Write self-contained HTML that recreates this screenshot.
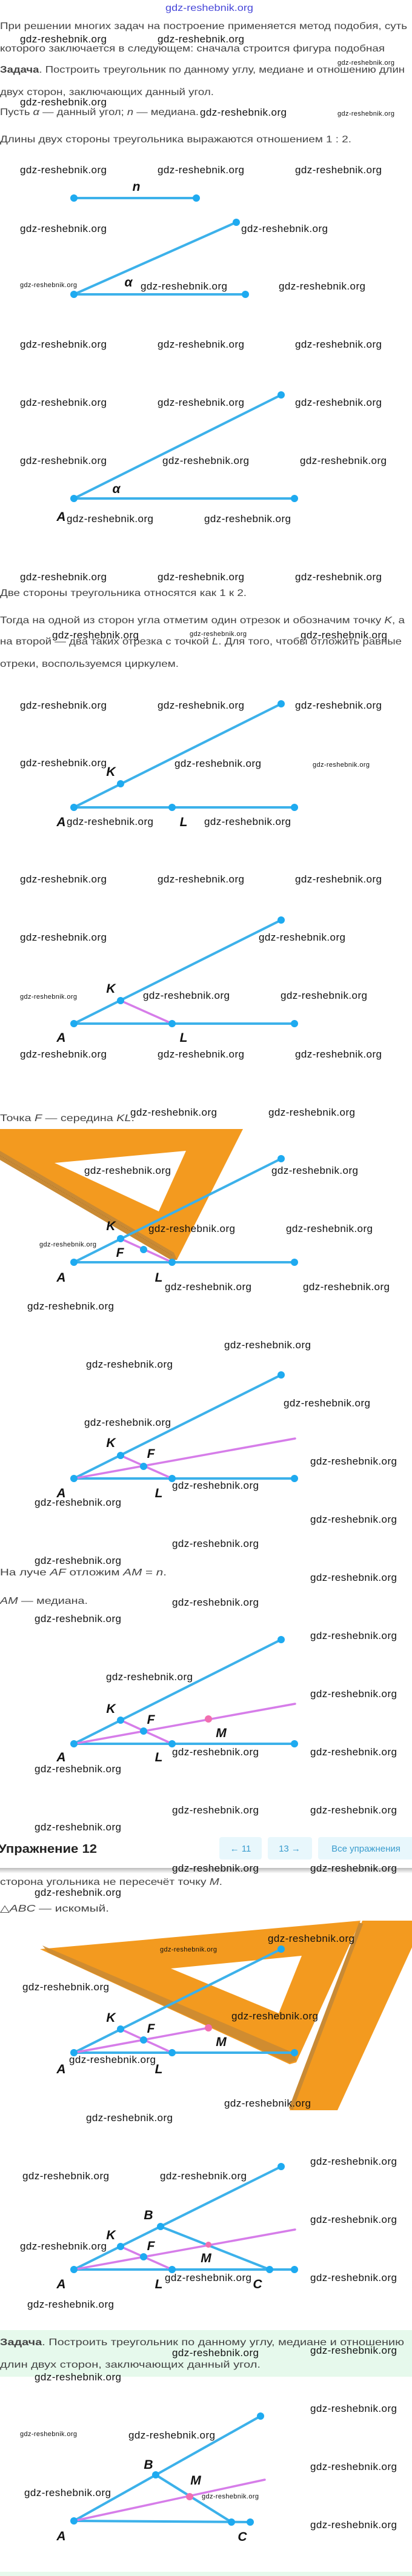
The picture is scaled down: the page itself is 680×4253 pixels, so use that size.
<!DOCTYPE html>
<html><head><meta charset="utf-8"><style>
html,body{margin:0;padding:0;background:#fff;}
svg{display:block;}
.w{font-family:"Liberation Sans",sans-serif;font-size:17px;fill:#111;}
.ws{font-family:"Liberation Sans",sans-serif;font-size:11px;fill:#111;}
.t{font-family:"Liberation Sans",sans-serif;font-size:16px;fill:#444;}
.lb{font-family:"Liberation Sans",sans-serif;font-size:21px;font-style:italic;font-weight:bold;fill:#111;text-anchor:middle;}
.b{stroke:#3cb1ea;stroke-width:4;stroke-linecap:round;fill:none;}
.p{stroke:#d67de9;stroke-width:3.5;stroke-linecap:round;fill:none;}
.d{fill:#1eaaf0;}
.pm{fill:#f16fb0;}
.btn{fill:#e8f7fc;}
.bt{font-family:"Liberation Sans",sans-serif;font-size:15px;fill:#3a9cce;text-anchor:middle;}
</style></head><body>
<svg width="680" height="4253" viewBox="0 0 680 4253" xmlns="http://www.w3.org/2000/svg">
<defs>
<linearGradient id="sh" x1="0" y1="0" x2="0" y2="1"><stop offset="0" stop-color="#bbb"/><stop offset="1" stop-color="#fff"/></linearGradient>
</defs>
<rect width="680" height="4253" fill="#fff"/>
<text x="273" y="18" style="font-family:'Liberation Sans',sans-serif;font-size:16px;fill:#4646d8" textLength="145" lengthAdjust="spacingAndGlyphs">gdz-reshebnik.org</text>

<!-- body text -->
<text class="t" x="0" y="48" textLength="672" lengthAdjust="spacingAndGlyphs">При решении многих задач на построение применяется метод подобия, суть</text>
<text class="t" x="0" y="85" textLength="635" lengthAdjust="spacingAndGlyphs">которого заключается в следующем: сначала строится фигура подобная</text>
<text class="t" x="0" y="120" textLength="668" lengthAdjust="spacingAndGlyphs"><tspan font-weight="bold">Задача</tspan>. Построить треугольник по данному углу, медиане и отношению длин</text>
<text class="t" x="0" y="157" textLength="353" lengthAdjust="spacingAndGlyphs">двух сторон, заключающих данный угол.</text>
<text class="t" x="0" y="190" textLength="328" lengthAdjust="spacingAndGlyphs">Пусть <tspan font-style="italic">α</tspan> — данный угол; <tspan font-style="italic">n</tspan> — медиана.</text>
<text class="t" x="0" y="235" textLength="580" lengthAdjust="spacingAndGlyphs">Длины двух стороны треугольника выражаются отношением 1 : 2.</text>
<text class="t" x="0" y="984" textLength="407" lengthAdjust="spacingAndGlyphs">Две стороны треугольника относятся как 1 к 2.</text>
<text class="t" x="0" y="1029" textLength="668" lengthAdjust="spacingAndGlyphs">Тогда на одной из сторон угла отметим один отрезок и обозначим точку <tspan font-style="italic">K</tspan>, а</text>
<text class="t" x="0" y="1064" textLength="663" lengthAdjust="spacingAndGlyphs">на второй — два таких отрезка с точкой <tspan font-style="italic">L</tspan>. Для того, чтобы отложить равные</text>
<text class="t" x="0" y="1101" textLength="295" lengthAdjust="spacingAndGlyphs">отреки, воспользуемся циркулем.</text>
<text class="t" x="0" y="1851" textLength="222" lengthAdjust="spacingAndGlyphs">Точка <tspan font-style="italic">F</tspan> — середина <tspan font-style="italic">KL</tspan>.</text>
<text class="t" x="0" y="2601" textLength="275" lengthAdjust="spacingAndGlyphs">На луче <tspan font-style="italic">AF</tspan> отложим <tspan font-style="italic">AM</tspan> = <tspan font-style="italic">n</tspan>.</text>
<text class="t" x="0" y="2648" textLength="145" lengthAdjust="spacingAndGlyphs"><tspan font-style="italic">AM</tspan> — медиана.</text>
<text class="t" x="0" y="3112" textLength="367" lengthAdjust="spacingAndGlyphs">сторона угольника не пересечёт точку <tspan font-style="italic">M</tspan>.</text>
<text class="t" x="0" y="3156" textLength="180" lengthAdjust="spacingAndGlyphs">△<tspan font-style="italic">ABC</tspan> — искомый.</text>

<!-- n segment -->
<text class="lb" x="225" y="315">n</text>
<line class="b" x1="122" y1="327" x2="324" y2="327"/>
<circle class="d" cx="122" cy="327" r="6"/><circle class="d" cx="324" cy="327" r="6"/>
<!-- angle 1 -->
<line class="b" x1="122" y1="486" x2="390" y2="367"/>
<line class="b" x1="122" y1="486" x2="405" y2="486"/>
<circle class="d" cx="122" cy="486" r="6"/><circle class="d" cx="390" cy="367" r="6"/><circle class="d" cx="405" cy="486" r="6"/>
<text class="lb" x="212" y="473">α</text>

<!-- angle 2 -->
<line class="b" x1="122" y1="823" x2="464" y2="652"/>
<line class="b" x1="122" y1="823" x2="486" y2="823"/>
<circle class="d" cx="122" cy="823" r="6"/><circle class="d" cx="464" cy="652" r="6"/><circle class="d" cx="486" cy="823" r="6"/>
<text class="lb" x="192" y="814">α</text>
<text class="lb" x="101" y="860">A</text>

<!-- diagram K L -->
<line class="b" x1="122" y1="1333" x2="464" y2="1162"/>
<line class="b" x1="122" y1="1333" x2="486" y2="1333"/>
<circle class="d" cx="122" cy="1333" r="6"/><circle class="d" cx="199" cy="1294" r="6"/><circle class="d" cx="464" cy="1162" r="6"/><circle class="d" cx="284" cy="1333" r="6"/><circle class="d" cx="486" cy="1333" r="6"/>
<text class="lb" x="183" y="1281">K</text><text class="lb" x="101" y="1364">A</text><text class="lb" x="303" y="1364">L</text>

<!-- diagram KL pink -->
<line class="b" x1="122" y1="1690" x2="464" y2="1519"/>
<line class="b" x1="122" y1="1690" x2="486" y2="1690"/>
<line class="p" x1="199" y1="1652" x2="284" y2="1690"/>
<circle class="d" cx="122" cy="1690" r="6"/><circle class="d" cx="199" cy="1652" r="6"/><circle class="d" cx="464" cy="1519" r="6"/><circle class="d" cx="284" cy="1690" r="6"/><circle class="d" cx="486" cy="1690" r="6"/>
<text class="lb" x="183" y="1639">K</text><text class="lb" x="101" y="1720">A</text><text class="lb" x="303" y="1720">L</text>

<!-- orange set square 1 -->
<polygon points="0,1864 401,1864 292,2080 282,2080 0,1915" fill="#f39a1f"/>
<polygon points="90,1920 307,1900 262,2000" fill="#fff"/>
<polygon points="0,1915 282,2080 292,2080 287,2068 0,1900" fill="#c98a34"/>
<line x1="0" y1="1908" x2="285" y2="2073" stroke="#a87028" stroke-width="1" stroke-dasharray="1 2"/>
<!-- diagram F -->
<line class="b" x1="122" y1="2084" x2="464" y2="1913"/>
<line class="b" x1="122" y1="2084" x2="486" y2="2084"/>
<line class="p" x1="199" y1="2045" x2="284" y2="2084"/>
<circle class="d" cx="122" cy="2084" r="6"/><circle class="d" cx="199" cy="2045" r="6"/><circle class="d" cx="237" cy="2063" r="6"/><circle class="d" cx="464" cy="1913" r="6"/><circle class="d" cx="284" cy="2084" r="6"/><circle class="d" cx="486" cy="2084" r="6"/>
<text class="lb" x="183" y="2031">K</text><text class="lb" x="198" y="2075">F</text><text class="lb" x="101" y="2116">A</text><text class="lb" x="262" y="2116">L</text>

<!-- diagram AF ray -->
<line class="b" x1="122" y1="2441" x2="464" y2="2270"/>
<line class="b" x1="122" y1="2441" x2="486" y2="2441"/>
<line class="p" x1="199" y1="2403" x2="284" y2="2441"/>
<line class="p" x1="122" y1="2441" x2="487" y2="2375"/>
<circle class="d" cx="122" cy="2441" r="6"/><circle class="d" cx="199" cy="2403" r="6"/><circle class="d" cx="237" cy="2421" r="6"/><circle class="d" cx="464" cy="2270" r="6"/><circle class="d" cx="284" cy="2441" r="6"/><circle class="d" cx="486" cy="2441" r="6"/>
<text class="lb" x="183" y="2389">K</text><text class="lb" x="249" y="2407">F</text><text class="lb" x="101" y="2472">A</text><text class="lb" x="262" y="2472">L</text>

<!-- diagram M -->
<line class="b" x1="122" y1="2879" x2="464" y2="2707"/>
<line class="b" x1="122" y1="2879" x2="486" y2="2879"/>
<line class="p" x1="199" y1="2840" x2="284" y2="2879"/>
<line class="p" x1="122" y1="2879" x2="487" y2="2813"/>
<circle class="d" cx="122" cy="2879" r="6"/><circle class="d" cx="199" cy="2840" r="6"/><circle class="d" cx="237" cy="2858" r="6"/><circle class="d" cx="464" cy="2707" r="6"/><circle class="d" cx="284" cy="2879" r="6"/><circle class="d" cx="486" cy="2879" r="6"/><circle class="pm" cx="344" cy="2838" r="6"/>
<text class="lb" x="183" y="2828">K</text><text class="lb" x="249" y="2846">F</text><text class="lb" x="365" y="2868">M</text><text class="lb" x="101" y="2908">A</text><text class="lb" x="262" y="2908">L</text>

<!-- header bar -->
<rect x="0" y="3022" width="680" height="64" fill="#fff"/>
<rect x="0" y="3084" width="680" height="9" fill="url(#sh)"/>
<text x="-3" y="3059" style="font-family:'Liberation Sans',sans-serif;font-size:20px;font-weight:bold;fill:#222" textLength="163" lengthAdjust="spacingAndGlyphs">Упражнение 12</text>
<rect class="btn" x="362" y="3033" width="70" height="37" rx="4"/>
<text class="bt" x="397" y="3057">← 11</text>
<rect class="btn" x="442" y="3033" width="73" height="37" rx="4"/>
<text class="bt" x="478" y="3057">13 →</text>
<rect class="btn" x="525" y="3033" width="160" height="37" rx="4"/>
<text class="bt" x="604" y="3057">Все упражнения</text>

<!-- orange set square 2 + ruler -->
<polygon points="66,3218 595,3171 489,3405 478,3408" fill="#f39a1f"/>
<polygon points="282,3250 498,3229 460,3324" fill="#fff"/>
<polygon points="70,3212 80,3224 478,3406 489,3402 486,3390" fill="#c98a34" opacity="0.85"/>
<polygon points="598,3171 680,3171 680,3215 557,3484 478,3484" fill="#f39a1f"/>
<line x1="596" y1="3175" x2="480" y2="3482" stroke="#c98a34" stroke-width="7"/>

<!-- diagram with set square -->
<line class="b" x1="122" y1="3389" x2="464" y2="3218"/>
<line class="b" x1="122" y1="3389" x2="486" y2="3389"/>
<line class="p" x1="199" y1="3350" x2="284" y2="3389"/>
<line class="p" x1="122" y1="3389" x2="344" y2="3348"/>
<circle class="d" cx="122" cy="3389" r="6"/><circle class="d" cx="199" cy="3350" r="6"/><circle class="d" cx="237" cy="3368" r="6"/><circle class="d" cx="464" cy="3218" r="6"/><circle class="d" cx="284" cy="3389" r="6"/><circle class="d" cx="486" cy="3389" r="6"/><circle class="pm" cx="344" cy="3348" r="6"/>
<text class="lb" x="183" y="3338">K</text><text class="lb" x="249" y="3356">F</text><text class="lb" x="365" y="3378">M</text><text class="lb" x="101" y="3423">A</text><text class="lb" x="262" y="3423">L</text>

<!-- diagram ABC full -->
<line class="b" x1="122" y1="3747" x2="464" y2="3577"/>
<line class="b" x1="122" y1="3747" x2="486" y2="3747"/>
<line class="b" x1="265" y1="3676" x2="445" y2="3747"/>
<line class="p" x1="199" y1="3709" x2="284" y2="3747"/>
<line class="p" x1="122" y1="3747" x2="487" y2="3681"/>
<circle class="d" cx="122" cy="3747" r="6"/><circle class="d" cx="199" cy="3709" r="6"/><circle class="d" cx="265" cy="3676" r="6"/><circle class="d" cx="237" cy="3726" r="6"/><circle class="d" cx="464" cy="3577" r="6"/><circle class="d" cx="284" cy="3747" r="6"/><circle class="d" cx="445" cy="3747" r="6"/><circle class="d" cx="486" cy="3747" r="6"/><circle class="pm" cx="344" cy="3706" r="5"/>
<text class="lb" x="245" y="3664">B</text><text class="lb" x="183" y="3697">K</text><text class="lb" x="249" y="3715">F</text><text class="lb" x="340" y="3735">M</text><text class="lb" x="101" y="3778">A</text><text class="lb" x="262" y="3778">L</text><text class="lb" x="425" y="3778">C</text>

<!-- green task box -->
<rect x="0" y="3847" width="680" height="77" fill="#e6f9ec"/>
<text class="t" x="0" y="3872" textLength="667" lengthAdjust="spacingAndGlyphs"><tspan font-weight="bold">Задача</tspan>. Построить треугольник по данному углу, медиане и отношению</text>
<text class="t" x="0" y="3909" textLength="430" lengthAdjust="spacingAndGlyphs">длин двух сторон, заключающих данный угол.</text>

<!-- final diagram -->
<line class="b" x1="122" y1="4162" x2="430" y2="3989"/>
<line class="b" x1="122" y1="4162" x2="413" y2="4164"/>
<line class="b" x1="257" y1="4086" x2="382" y2="4164"/>
<line class="p" x1="122" y1="4162" x2="437" y2="4094"/>
<circle class="d" cx="122" cy="4162" r="6"/><circle class="d" cx="257" cy="4086" r="6"/><circle class="d" cx="430" cy="3989" r="6"/><circle class="d" cx="382" cy="4164" r="6"/><circle class="d" cx="413" cy="4164" r="6"/><circle class="pm" cx="313" cy="4122" r="6"/>
<text class="lb" x="245" y="4076">B</text><text class="lb" x="323" y="4102">M</text><text class="lb" x="101" y="4194">A</text><text class="lb" x="400" y="4195">C</text>
<rect x="0" y="4246" width="680" height="7" fill="#e6f9ec"/>

<!-- watermarks -->
<g class="w">
<text x="33" y="70" textLength="143">gdz-reshebnik.org</text><text x="260" y="70" textLength="143">gdz-reshebnik.org</text>
<text x="33" y="174" textLength="143">gdz-reshebnik.org</text><text x="330" y="191" textLength="143">gdz-reshebnik.org</text>
<text x="33" y="286" textLength="143">gdz-reshebnik.org</text><text x="260" y="286" textLength="143">gdz-reshebnik.org</text><text x="487" y="286" textLength="143">gdz-reshebnik.org</text>
<text x="33" y="383" textLength="143">gdz-reshebnik.org</text><text x="398" y="383" textLength="143">gdz-reshebnik.org</text>
<text x="232" y="478" textLength="143">gdz-reshebnik.org</text><text x="460" y="478" textLength="143">gdz-reshebnik.org</text>
<text x="33" y="574" textLength="143">gdz-reshebnik.org</text><text x="260" y="574" textLength="143">gdz-reshebnik.org</text><text x="487" y="574" textLength="143">gdz-reshebnik.org</text>
<text x="33" y="670" textLength="143">gdz-reshebnik.org</text><text x="260" y="670" textLength="143">gdz-reshebnik.org</text><text x="487" y="670" textLength="143">gdz-reshebnik.org</text>
<text x="33" y="766" textLength="143">gdz-reshebnik.org</text><text x="268" y="766" textLength="143">gdz-reshebnik.org</text><text x="495" y="766" textLength="143">gdz-reshebnik.org</text>
<text x="110" y="862" textLength="143">gdz-reshebnik.org</text><text x="337" y="862" textLength="143">gdz-reshebnik.org</text>
<text x="33" y="958" textLength="143">gdz-reshebnik.org</text><text x="260" y="958" textLength="143">gdz-reshebnik.org</text><text x="487" y="958" textLength="143">gdz-reshebnik.org</text>
<text x="86" y="1054" textLength="143">gdz-reshebnik.org</text><text x="496" y="1054" textLength="143">gdz-reshebnik.org</text>
<text x="33" y="1170" textLength="143">gdz-reshebnik.org</text><text x="260" y="1170" textLength="143">gdz-reshebnik.org</text><text x="487" y="1170" textLength="143">gdz-reshebnik.org</text>
<text x="33" y="1265" textLength="143">gdz-reshebnik.org</text><text x="288" y="1266" textLength="143">gdz-reshebnik.org</text>
<text x="110" y="1362" textLength="143">gdz-reshebnik.org</text><text x="337" y="1362" textLength="143">gdz-reshebnik.org</text>
<text x="33" y="1457" textLength="143">gdz-reshebnik.org</text><text x="260" y="1457" textLength="143">gdz-reshebnik.org</text><text x="487" y="1457" textLength="143">gdz-reshebnik.org</text>
<text x="33" y="1553" textLength="143">gdz-reshebnik.org</text><text x="427" y="1553" textLength="143">gdz-reshebnik.org</text>
<text x="236" y="1649" textLength="143">gdz-reshebnik.org</text><text x="463" y="1649" textLength="143">gdz-reshebnik.org</text>
<text x="33" y="1746" textLength="143">gdz-reshebnik.org</text><text x="260" y="1746" textLength="143">gdz-reshebnik.org</text><text x="487" y="1746" textLength="143">gdz-reshebnik.org</text>
<text x="215" y="1842" textLength="143">gdz-reshebnik.org</text><text x="443" y="1842" textLength="143">gdz-reshebnik.org</text>
<text x="139" y="1938" textLength="143">gdz-reshebnik.org</text><text x="448" y="1938" textLength="143">gdz-reshebnik.org</text>
<text x="245" y="2034" textLength="143">gdz-reshebnik.org</text><text x="472" y="2034" textLength="143">gdz-reshebnik.org</text>
<text x="272" y="2130" textLength="143">gdz-reshebnik.org</text><text x="500" y="2130" textLength="143">gdz-reshebnik.org</text>
<text x="45" y="2162" textLength="143">gdz-reshebnik.org</text>
<text x="370" y="2226" textLength="143">gdz-reshebnik.org</text><text x="142" y="2258" textLength="143">gdz-reshebnik.org</text>
<text x="468" y="2322" textLength="143">gdz-reshebnik.org</text><text x="139" y="2354" textLength="143">gdz-reshebnik.org</text>
<text x="512" y="2418" textLength="143">gdz-reshebnik.org</text><text x="284" y="2458" textLength="143">gdz-reshebnik.org</text>
<text x="57" y="2486" textLength="143">gdz-reshebnik.org</text><text x="512" y="2514" textLength="143">gdz-reshebnik.org</text>
<text x="284" y="2554" textLength="143">gdz-reshebnik.org</text><text x="57" y="2582" textLength="143">gdz-reshebnik.org</text>
<text x="512" y="2610" textLength="143">gdz-reshebnik.org</text><text x="284" y="2651" textLength="143">gdz-reshebnik.org</text>
<text x="57" y="2678" textLength="143">gdz-reshebnik.org</text><text x="512" y="2706" textLength="143">gdz-reshebnik.org</text>
<text x="175" y="2774" textLength="143">gdz-reshebnik.org</text><text x="512" y="2802" textLength="143">gdz-reshebnik.org</text>
<text x="284" y="2898" textLength="143">gdz-reshebnik.org</text><text x="512" y="2898" textLength="143">gdz-reshebnik.org</text>
<text x="57" y="2926" textLength="143">gdz-reshebnik.org</text>
<text x="284" y="2994" textLength="143">gdz-reshebnik.org</text><text x="512" y="2994" textLength="143">gdz-reshebnik.org</text>
<text x="57" y="3022" textLength="143">gdz-reshebnik.org</text>
<text x="284" y="3090" textLength="143">gdz-reshebnik.org</text><text x="512" y="3090" textLength="143">gdz-reshebnik.org</text>
<text x="57" y="3130" textLength="143">gdz-reshebnik.org</text>
<text x="442" y="3206" textLength="143">gdz-reshebnik.org</text><text x="37" y="3286" textLength="143">gdz-reshebnik.org</text>
<text x="382" y="3334" textLength="143">gdz-reshebnik.org</text><text x="114" y="3406" textLength="143">gdz-reshebnik.org</text>
<text x="370" y="3478" textLength="143">gdz-reshebnik.org</text><text x="142" y="3502" textLength="143">gdz-reshebnik.org</text>
<text x="512" y="3574" textLength="143">gdz-reshebnik.org</text><text x="37" y="3598" textLength="143">gdz-reshebnik.org</text><text x="264" y="3598" textLength="143">gdz-reshebnik.org</text>
<text x="512" y="3670" textLength="143">gdz-reshebnik.org</text><text x="33" y="3714" textLength="143">gdz-reshebnik.org</text>
<text x="512" y="3766" textLength="143">gdz-reshebnik.org</text><text x="272" y="3766" textLength="143">gdz-reshebnik.org</text>
<text x="45" y="3810" textLength="143">gdz-reshebnik.org</text>
<text x="284" y="3890" textLength="143">gdz-reshebnik.org</text><text x="512" y="3886" textLength="143">gdz-reshebnik.org</text>
<text x="57" y="3930" textLength="143">gdz-reshebnik.org</text>
<text x="512" y="3982" textLength="143">gdz-reshebnik.org</text><text x="212" y="4026" textLength="143">gdz-reshebnik.org</text>
<text x="512" y="4078" textLength="143">gdz-reshebnik.org</text><text x="40" y="4121" textLength="143">gdz-reshebnik.org</text>
<text x="512" y="4174" textLength="143">gdz-reshebnik.org</text>
</g>
<g class="ws">
<text x="557" y="107" textLength="94">gdz-reshebnik.org</text>
<text x="557" y="191" textLength="94">gdz-reshebnik.org</text>
<text x="33" y="474" textLength="94">gdz-reshebnik.org</text>
<text x="313" y="1050" textLength="94">gdz-reshebnik.org</text>
<text x="516" y="1266" textLength="94">gdz-reshebnik.org</text>
<text x="33" y="1649" textLength="94">gdz-reshebnik.org</text>
<text x="65" y="2058" textLength="94">gdz-reshebnik.org</text>
<text x="264" y="3222" textLength="94">gdz-reshebnik.org</text>
<text x="33" y="4022" textLength="94">gdz-reshebnik.org</text>
<text x="333" y="4125" textLength="94">gdz-reshebnik.org</text>
</g>
</svg>
</body></html>
